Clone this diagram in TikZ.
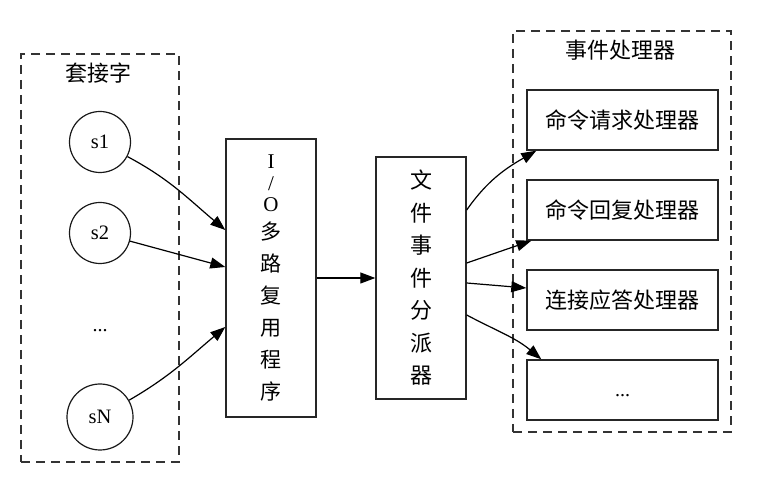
\documentclass[tikz,border=0pt]{standalone}
\usepackage{fontspec}
\setmainfont{Liberation Serif}
\newfontfamily\cjk{Noto Sans CJK SC}
\usetikzlibrary{arrows.meta}
\begin{document}
\begin{tikzpicture}[x=1pt,y=1pt,
  cluster/.style={draw=black!80, line width=1.3pt, dash pattern=on 9pt off 6pt, inner sep=0pt},
  sock/.style={circle, draw=black!90, line width=1.2pt, inner sep=0pt, font=\fontsize{20.5}{24}\selectfont},
  box/.style={draw=black!85, line width=1.4pt, inner sep=0pt},
  cn/.style={font=\cjk\fontsize{22}{26}\selectfont},
  arr/.style={-{Triangle[length=15pt,width=11pt]}, line width=1.2pt, draw=black}]
\useasboundingbox (0,0) rectangle (759,481);
% sockets cluster
\node[cluster, minimum width=158pt, minimum height=408pt] (socks) at (100,223) {};
\node[cn] (socklabel) at (98,408) {套接字};
\node[sock, minimum size=61pt] (s1) at (100,339) {s1};
\node[sock, minimum size=61pt] (s2) at (100,248) {s2};
\node[font=\fontsize{20}{24}\selectfont, anchor=base, inner sep=0pt] (sdots) at (100,149.5) {...};
\node[sock, minimum size=66pt] (sN) at (100,64) {sN};
% IO multiplexer
\node[box, minimum width=90pt, minimum height=278pt, align=center,
      font=\fontsize{21}{21.5}\selectfont] (io) at (271,203)
  {I\\/\\O\\[6.5pt]{\cjk 多}\\[10.5pt]{\cjk 路}\\[10.5pt]{\cjk 复}\\[10.5pt]{\cjk 用}\\[10.5pt]{\cjk 程}\\[10.5pt]{\cjk 序}};
% dispatcher
\node[box, minimum width=90pt, minimum height=242pt, align=center,
      font=\cjk\fontsize{22}{32.5}\selectfont] (disp) at (421,203)
  {文\\件\\事\\件\\分\\派\\器};
% handlers cluster
\node[cluster, minimum width=218pt, minimum height=401pt] (handlers) at (622,249.5) {};
\node[cn] (hlabel) at (620,431) {事件处理器};
\node[box, cn, minimum width=191pt, minimum height=60pt] (h1) at (622.5,361) {命令请求处理器};
\node[box, cn, minimum width=191pt, minimum height=60pt] (h2) at (622.5,271) {命令回复处理器};
\node[box, cn, minimum width=191pt, minimum height=60pt] (h3) at (622.5,181) {连接应答处理器};
\node[box, minimum width=191pt, minimum height=60pt, font=\fontsize{20}{24}\selectfont,
      text height=14pt, text depth=1pt] (h4) at (622.5,91) {...};
% connectors
\draw[arr] (s1) to[out=-28, in=140] ([yshift=48pt]io.west);
\draw[arr] (s2) -- ([yshift=11pt]io.west);
\draw[arr] (sN) to[out=30, in=-140] ([yshift=-49pt]io.west);
\draw[arr] (io) -- (disp);
\draw[arr] ([yshift=68pt]disp.east) to[out=55, in=-150] ([xshift=10pt]h1.south west);
\draw[arr] ([yshift=15pt]disp.east) -- ([xshift=5pt]h2.south west);
\draw[arr] ([yshift=-5pt]disp.east) -- ([yshift=12pt]h3.west);
\draw[arr] ([yshift=-37pt]disp.east) to[out=-28, in=140] ([xshift=15pt]h4.north west);
\end{tikzpicture}
\end{document}
